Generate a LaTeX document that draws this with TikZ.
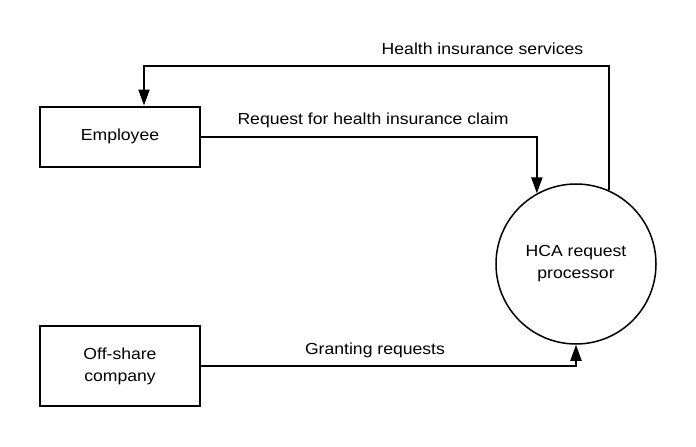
\documentclass[tikz,border=0pt]{standalone}
\usepackage{fontspec}
\setmainfont{Liberation Sans}[FakeStretch=1.1]
\usetikzlibrary{arrows.meta}
\begin{document}
\begin{tikzpicture}[x=1pt,y=-1pt,
  box/.style={draw,line width=2pt,minimum width=160pt,inner sep=0pt,align=center},
  proc/.style={draw,circle,line width=1.5pt,minimum size=160pt,inner sep=0pt,align=center},
  flow/.style={line width=2pt,-{Triangle[length=16pt,width=11pt]}},
  lbl/.style={inner sep=0pt},
  every node/.style={font=\fontsize{16}{22}\selectfont}]
\useasboundingbox (0,0) rectangle (696,447);
\node[box,minimum height=60pt] (emp) at (120,136.5) {Employee};
\node[box,minimum height=80pt] (off) at (120,366) {Off-share\\company};
\node[proc] (hca) at (576,264) {HCA request\\processor};
\coordinate (t) at (144,66);
\draw[flow] (emp.east) -| (hca.119);
\draw[flow] (hca.66.4) |- (t) -- (emp.north -| t);
\draw[flow] (off.east) -| (hca.south);
\node[lbl] (l1) at (482.5,49) {Health insurance services};
\node[lbl] (l2) at (373,120) {Request for health insurance claim};
\node[lbl] (l3) at (375,350) {Granting requests};
\end{tikzpicture}
\end{document}
